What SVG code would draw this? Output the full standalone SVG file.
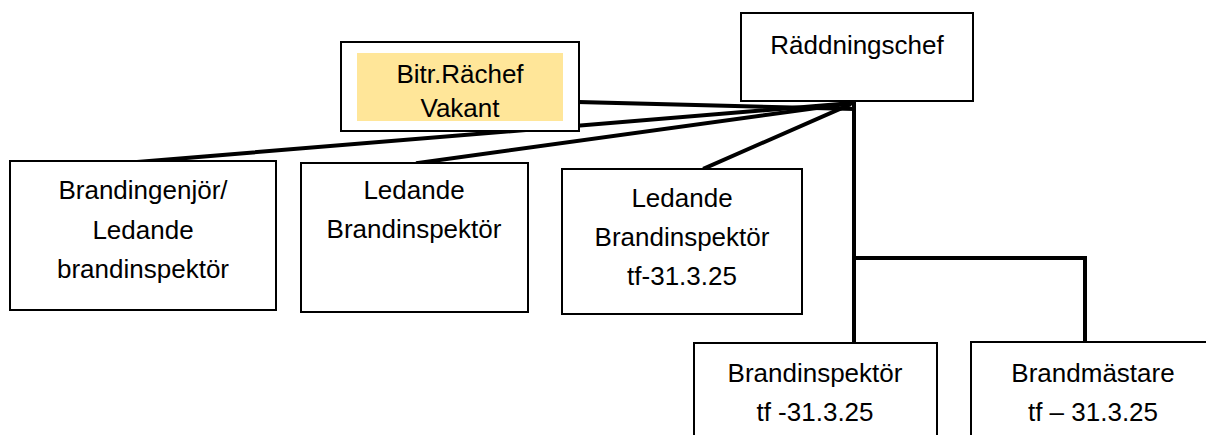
<svg xmlns="http://www.w3.org/2000/svg" width="1206" height="435" viewBox="0 0 1206 435">
<style>
.box{fill:#fff;stroke:#000;stroke-width:2}
.t{font-family:"Liberation Sans",Arial,sans-serif;font-size:26px;fill:#000;text-anchor:middle}
.c{stroke:#000;stroke-width:4;fill:none;stroke-linecap:square}
</style>
<rect width="1206" height="435" fill="#fff"/>
<g id="connectors">
<line class="c" x1="579" y1="102" x2="853" y2="109"/>
<line class="c" x1="137" y1="162" x2="853" y2="103"/>
<line class="c" x1="418" y1="163" x2="853" y2="103"/>
<line class="c" x1="705" y1="168" x2="849" y2="105"/>
<polyline class="c" points="854,103 854,343"/>
<polyline class="c" points="854,258 1085,258 1085,342"/>
</g>
<g id="raddningschef">
<rect class="box" x="741" y="13" width="232" height="88"/>
<text class="t" x="857" y="54">Räddningschef</text>
</g>
<g id="bitr">
<rect class="box" x="341" y="42" width="238" height="89"/>
<rect x="357" y="53" width="206" height="68" fill="#FFE699"/>
<text class="t" x="460" y="83">Bitr.Rächef</text>
<text class="t" x="460" y="117">Vakant</text>
</g>
<g id="brandingenjor">
<rect class="box" x="10" y="161" width="266" height="149"/>
<text class="t" x="143" y="199">Brandingenjör/</text>
<text class="t" x="143" y="239">Ledande</text>
<text class="t" x="143" y="278">brandinspektör</text>
</g>
<g id="ledande">
<rect class="box" x="301" y="163" width="227" height="149"/>
<text class="t" x="414" y="199">Ledande</text>
<text class="t" x="414" y="238">Brandinspektör</text>
</g>
<g id="ledande-tf">
<rect class="box" x="562" y="169" width="240" height="145"/>
<text class="t" x="682" y="207">Ledande</text>
<text class="t" x="682" y="246">Brandinspektör</text>
<text class="t" x="682" y="285">tf-31.3.25</text>
</g>
<g id="brandinspektor">
<rect class="box" x="694" y="343" width="243" height="100"/>
<text class="t" x="815" y="382">Brandinspektör</text>
<text class="t" x="815" y="421">tf -31.3.25</text>
</g>
<g id="brandmastare">
<rect class="box" x="971" y="342" width="250" height="100"/>
<text class="t" x="1093" y="382">Brandmästare</text>
<text class="t" x="1093" y="421">tf – 31.3.25</text>
</g>
</svg>
